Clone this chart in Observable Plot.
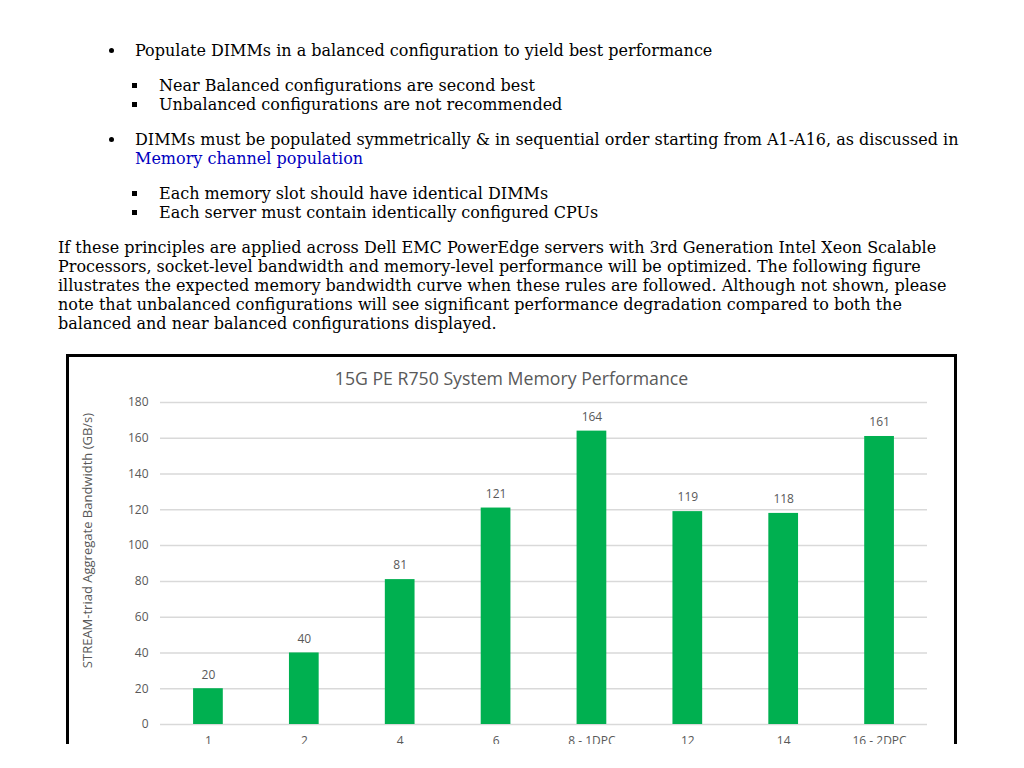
<!DOCTYPE html>
<html>
<head>
<meta charset="utf-8">
<script src="https://cdn.jsdelivr.net/npm/d3@7"></script>
<script src="https://cdn.jsdelivr.net/npm/@observablehq/plot@0.6"></script>
<style>
  html, body { margin: 0; padding: 0; background: #fff; }
  body { width: 1024px; height: 768px; position: relative; overflow: hidden; font-family: "DejaVu Serif", serif; font-size: 16px; color: #000; }
  .ln { position: absolute; white-space: nowrap; line-height: 19px; }
  .disc { position: absolute; width: 5px; height: 5px; border-radius: 50%; background: #000; }
  .sq { position: absolute; width: 5px; height: 5px; background: #000; }
  a { text-decoration: none; color: #0000c0; }
  #box { position: absolute; left: 66px; top: 354px; width: 885px; height: 387px; border: 3px solid #000; border-bottom: none; overflow: hidden; background: #fff; }
  #title { position: absolute; left: 0; top: 0; width: 885px; height: 42px; text-align: center; font-family: "Open Sans", sans-serif; font-size: 17.7px; line-height: 42px; color: #595959; }
  #chart { position: absolute; left: 0; top: 36px; }
</style>
</head>
<body>
<div class="disc" style="left:109px; top:48px"></div>
<div class="ln" style="left:135px; top:41px">Populate DIMMs in a balanced configuration to yield best performance</div>
<div class="sq" style="left:132px; top:83px"></div>
<div class="ln" style="left:159px; top:76px">Near Balanced configurations are second best</div>
<div class="sq" style="left:132px; top:102px"></div>
<div class="ln" style="left:159px; top:95px">Unbalanced configurations are not recommended</div>
<div class="disc" style="left:109px; top:137px"></div>
<div class="ln" style="left:135px; top:130px">DIMMs must be populated symmetrically &amp; in sequential order starting from A1-A16, as discussed in<br><a href="#">Memory channel population</a></div>
<div class="sq" style="left:132px; top:191px"></div>
<div class="ln" style="left:159px; top:184px">Each memory slot should have identical DIMMs</div>
<div class="sq" style="left:132px; top:210px"></div>
<div class="ln" style="left:159px; top:203px">Each server must contain identically configured CPUs</div>
<div class="ln" style="left:58px; top:238px">If these principles are applied across Dell EMC PowerEdge servers with 3rd Generation Intel Xeon Scalable<br>Processors, socket-level bandwidth and memory-level performance will be optimized. The following figure<br>illustrates the expected memory bandwidth curve when these rules are followed. Although not shown, please<br>note that unbalanced configurations will see significant performance degradation compared to both the<br>balanced and near balanced configurations displayed.</div>

<div id="box">
  <div id="title">15G PE R750 System Memory Performance</div>
  <div id="chart"></div>
</div>

<script>
const configs = ["1", "2", "4", "6", "8 - 1DPC", "12", "14", "16 - 2DPC"];
const bandwidth = [20, 40, 81, 121, 164, 119, 118, 161];
const yTicks = [0, 20, 40, 60, 80, 100, 120, 140, 160, 180];
const chartTitle = "15G PE R750 System Memory Performance";
const yLabel = "STREAM-triad Aggregate Bandwidth (GB/s)";

const data = configs.map((c, i) => ({config: c, value: bandwidth[i]}));

const plot = Plot.plot({
  width: 885,
  height: 420,
  marginTop: 9,
  marginLeft: 91,
  marginRight: 27,
  marginBottom: 89,
  style: {fontFamily: "'Open Sans', sans-serif", fontSize: "12px", color: "#595959", background: "transparent"},
  x: {domain: configs, paddingInner: 0.69, paddingOuter: 0.345, round: false, label: null},
  y: {domain: [0, 180], ticks: yTicks, label: null},
  marks: [
    Plot.ruleY(yTicks, {stroke: "#d9d9d9", strokeWidth: 1.5}),
    Plot.barY(data, {x: "config", y: "value", fill: "#00b050"}),
    Plot.text(data, {x: "config", y: "value", text: d => String(d.value), dy: -14, fill: "#595959", fontSize: 12}),
    Plot.axisY({ticks: yTicks, tickSize: 0, tickPadding: 12, label: null, fontSize: 12}),
    Plot.text([yLabel], {frameAnchor: "left", text: d => d, rotate: -90, dx: -73, dy: -23, fill: "#595959", fontSize: 13, textAnchor: "middle", lineAnchor: "middle"}),
    Plot.axisX({tickSize: 0, tickPadding: 12, label: null, fontSize: 12})
  ]
});
document.getElementById("chart").appendChild(plot);
</script>
</body>
</html>
